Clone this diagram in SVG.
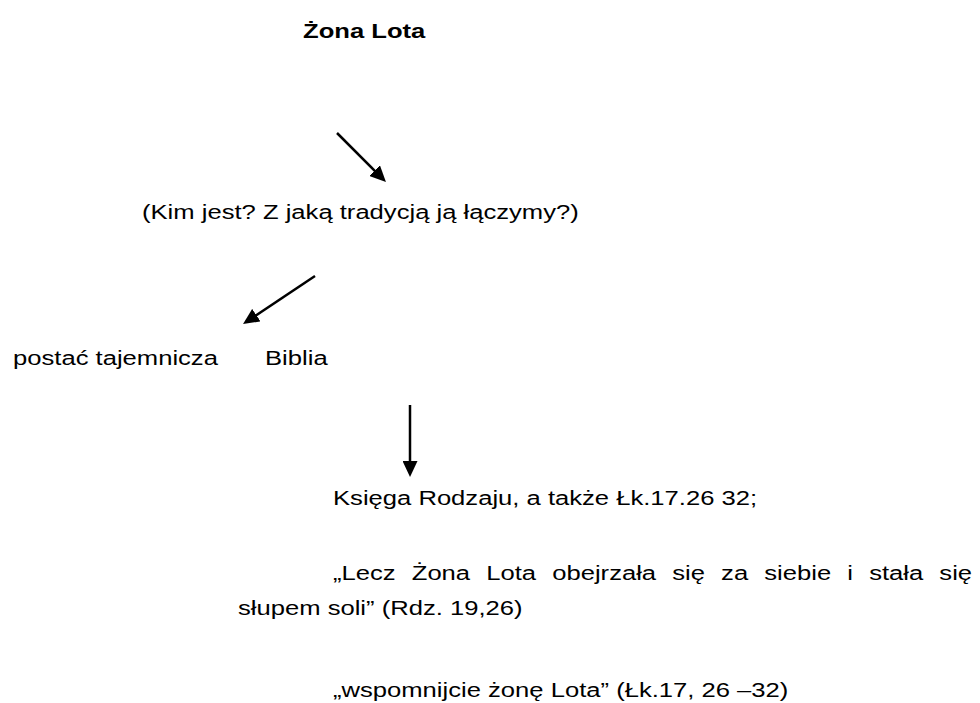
<svg xmlns="http://www.w3.org/2000/svg" width="980" height="703" viewBox="0 0 980 703">
<style>
text{font-family:"Liberation Sans",Arial,sans-serif;font-size:21px;fill:#000}
.t{font-weight:bold}
.c{stroke:#000;stroke-width:2.5;fill:none}
</style>
<defs>
<marker id="ah" viewBox="0 0 16 15" refX="8" refY="7.5" markerWidth="16" markerHeight="15" markerUnits="userSpaceOnUse" orient="auto">
<path d="M0,0 L16,7.5 L0,15 z" fill="#000"/>
</marker>
</defs>
<rect width="980" height="703" fill="#fff"/>
<g id="title"><text class="t" transform="translate(303,38) scale(1.22,1)">Żona Lota</text></g>
<g id="question"><text transform="translate(142,219) scale(1.22,1)">(Kim jest? Z jaką tradycją ją łączymy?)</text></g>
<g id="postac"><text transform="translate(13,365) scale(1.22,1)">postać tajemnicza</text></g>
<g id="biblia"><text transform="translate(265,365) scale(1.22,1)">Biblia</text></g>
<g id="ksiega"><text transform="translate(333,505) scale(1.22,1)">Księga Rodzaju, a także Łk.17.26 32;</text></g>
<g id="cytat1"><text transform="translate(333,580) scale(1.22,1)" word-spacing="7.4">„Lecz Żona Lota obejrzała się za siebie i stała się</text>
<text transform="translate(238,615) scale(1.22,1)">słupem soli” (Rdz. 19,26)</text></g>
<g id="cytat2"><text transform="translate(333,697) scale(1.22,1)">„wspomnijcie żonę Lota” (Łk.17, 26 –32)</text></g>
<g id="connectors">
<path class="c" d="M337,133 L380.3,176.3" marker-end="url(#ah)"/>
<path class="c" d="M315,276 L249.7,319.6" marker-end="url(#ah)"/>
<path class="c" d="M410,405 L410,469" marker-end="url(#ah)"/>
</g>
</svg>
